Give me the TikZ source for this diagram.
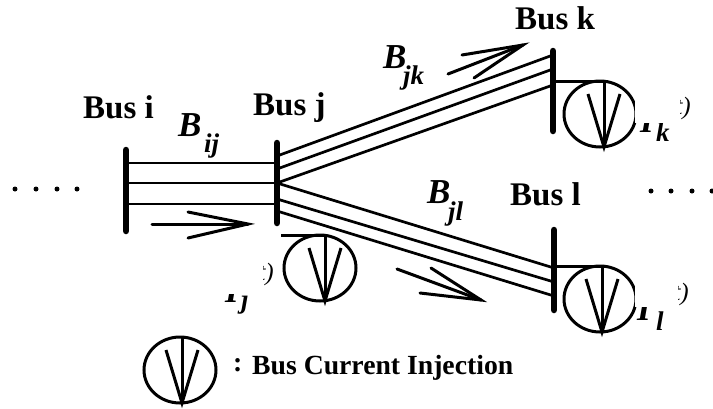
\documentclass[tikz,border=0pt]{standalone}
\usepackage{fontspec}
\setmainfont{Liberation Serif}
\tikzset{
  busbar/.style={line width=6.5pt, line cap=round},
  wire/.style={line width=2.7pt},
  flow/.style={line width=3pt, line cap=round},
  symb/.style={line width=3pt},
  busname/.style={anchor=base west, inner sep=0pt, font=\fontsize{33}{33}\selectfont\bfseries},
  bigB/.style={anchor=base west, inner sep=0pt, font=\fontsize{35}{35}\selectfont\bfseries\itshape},
  subs/.style={anchor=base west, inner sep=0pt, font=\fontsize{27}{27}\selectfont\bfseries\itshape},
  frag/.style={anchor=base east, inner sep=0pt, font=\fontsize{25}{25}\selectfont\itshape},
  legend/.style={anchor=base west, inner sep=0pt, font=\fontsize{27.7}{27.7}\selectfont\bfseries}
}
\begin{document}
\begin{tikzpicture}[x=1pt, y=-1pt]
  \useasboundingbox (0,0) rectangle (713,408);
  % bus bars
  \coordinate (it) at (126,150); \coordinate (ib) at (126,231);
  \coordinate (jt) at (277,143); \coordinate (jb) at (277,223);
  \coordinate (kt) at (553,51);  \coordinate (kb) at (553,131);
  \coordinate (lt) at (554,230); \coordinate (lb) at (554,310);
  \draw[busbar] (it) -- (ib);
  \draw[busbar] (jt) -- (jb);
  \draw[busbar] (kt) -- (kb);
  \draw[busbar] (lt) -- (lb);
  % lines between the buses
  \foreach \ya/\yb in {163/163, 183/183, 204/204} {
    \draw[wire] (126,\ya) -- (277,\yb);
  }
  \foreach \ya/\yb in {156/55, 169/69, 183/85} {
    \draw[wire] (277,\ya) -- (553,\yb);
  }
  \foreach \ya/\yb in {183/268, 199/282, 211/296} {
    \draw[wire] (277,\ya) -- (554,\yb);
  }
  % current injections: centre x, centre y, x of the stem
  \foreach \cx/\cy/\sx in {320/268/325, 600/114/604, 600/299/602, 180/370/182} {
    \draw[symb] (\cx,\cy) ellipse[x radius=36, y radius=33];
    \draw[symb] (\sx,\cy-33) -- (\sx,\cy+33);
    \draw[symb] (\sx-16,\cy-20) -- (\sx,\cy+33) -- (\sx+16,\cy-20);
  }
  % stubs from the bars
  \coordinate (sj) at (325,235); \coordinate (sk) at (604,81); \coordinate (sl) at (602,266);
  \draw[symb] (281,235) -- (sj);
  \draw[symb] (553,81) -- (sk);
  \draw[symb] (554,266) -- (sl);
  % flow arrows
  \draw[flow] (152,224) -- (248,224);
  \draw[flow] (188,212) -- (248,224) -- (188,238);
  \draw[flow] (448,74) -- (523,45);
  \draw[flow] (462,55) -- (523,45) -- (474,78);
  \draw[flow] (397,269) -- (481,300);
  \draw[flow] (431,268) -- (481,300) -- (420,293);
  % dots
  \foreach \x in {15,36,57,77} { \fill (\x,189) circle[radius=2.5]; }
  \foreach \x in {651,671,692,712} { \fill (\x,191) circle[radius=2.5]; }
  % bus names
  \node[busname] (busi) at (83,118)  {Bus i};
  \node[busname] (busj) at (253,115) {Bus j};
  \node[busname] (busk) at (515,29)  {Bus k};
  \node[busname] (busl) at (510,205) {Bus l};
  % susceptances
  \node[bigB] (bij) at (178,136) {B};
  \node[subs] (sij) at (204,152) {ij};
  \node[bigB] (bjk) at (383,68)  {B};
  \node[subs] (sjk) at (403,84)  {jk};
  \node[bigB] (bjl) at (427,203) {B};
  \node[subs] (sjl) at (448,220) {jl};
  % injected currents, partly hidden
  \node[bigB] (ij) at (225,302) {I};
  \node[subs] (cj) at (241,308) {j};
  \node[frag] (fj) at (274,280) {t)};
  \node[bigB] (ik) at (640,132) {I};
  \node[subs] (ck) at (656,141) {k};
  \node[frag] (fk) at (691,114) {t)};
  \node[bigB] (il) at (637,320) {I};
  \node[subs] (cl) at (656,330) {l};
  \node[frag] (fl) at (689,300) {t)};
  \fill[white] (215,268) rectangle (262,294);
  \fill[white] (255,262) rectangle (263,282);
  \fill[white] (635,90) rectangle (680,123);
  \fill[white] (635,276) rectangle (678,307);
  % legend
  \node[legend] (colon) at (233,371) {:};
  \node[legend] (legendtext) at (252,374) {Bus Current Injection};
\end{tikzpicture}
\end{document}
